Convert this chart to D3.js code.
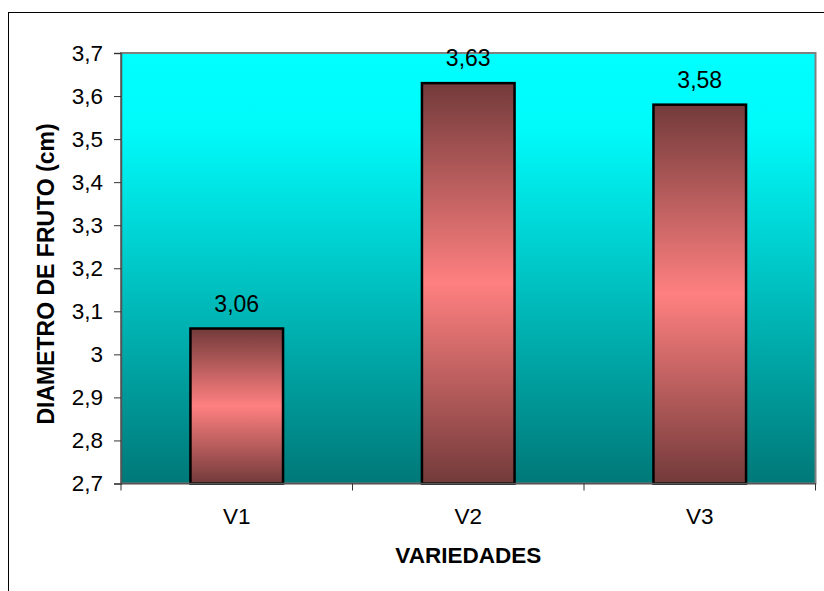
<!DOCTYPE html>
<html>
<head>
<meta charset="utf-8">
<script src="https://cdn.jsdelivr.net/npm/d3@7"></script>
<style>
  html, body { margin: 0; padding: 0; background: #fff; }
  svg { display: block; font-family: Arial, "Liberation Sans", sans-serif; }
</style>
</head>
<body>
<svg id="chart" width="824" height="591"></svg>
<script>
// Fruit diameter by variety
const categories = ["V1", "V2", "V3"];
const diameters = [3.06, 3.63, 3.58];
const yTicks = [2.7, 2.8, 2.9, 3.0, 3.1, 3.2, 3.3, 3.4, 3.5, 3.6, 3.7];
const yTitle = "DIAMETRO DE FRUTO (cm)";
const xTitle = "VARIEDADES";

const fmt = v => d3.format(".2~f")(v).replace(".", ",");

const svg = d3.select("#chart");
const plot = { left: 121, top: 53, right: 815.5, bottom: 483.5 };

const x = d3.scaleBand().domain(categories)
  .range([plot.left, plot.right]).paddingInner(0.6).paddingOuter(0.3);
const y = d3.scaleLinear().domain([2.7, 3.7]).range([plot.bottom, plot.top]);

// gradients
const defs = svg.append("defs");
const bg = defs.append("linearGradient").attr("id", "bgGrad")
  .attr("x1", 0).attr("y1", 0).attr("x2", 0).attr("y2", 1);
bg.append("stop").attr("offset", "0%").attr("stop-color", "#00ffff");
bg.append("stop").attr("offset", "18%").attr("stop-color", "#00fafa");
bg.append("stop").attr("offset", "100%").attr("stop-color", "#007878");

const barG = defs.append("linearGradient").attr("id", "barGrad")
  .attr("x1", 0).attr("y1", 0).attr("x2", 0).attr("y2", 1);
barG.append("stop").attr("offset", "0%").attr("stop-color", "#733a3a");
barG.append("stop").attr("offset", "50%").attr("stop-color", "#ff8080");
barG.append("stop").attr("offset", "100%").attr("stop-color", "#733a3a");

// outer chart frame
svg.append("rect")
  .attr("x", 8.5).attr("y", 12.5).attr("width", 840).attr("height", 620)
  .attr("fill", "#fff").attr("stroke", "#000").attr("stroke-width", 1);

// plot area
svg.append("rect")
  .attr("x", plot.left).attr("y", plot.top)
  .attr("width", plot.right - plot.left).attr("height", plot.bottom - plot.top)
  .attr("fill", "url(#bgGrad)").attr("stroke", "#808080").attr("stroke-width", 2);

// bars
svg.append("g").selectAll("rect").data(categories).join("rect")
  .attr("x", d => x(d))
  .attr("y", (d, i) => y(diameters[i]))
  .attr("width", x.bandwidth())
  .attr("height", (d, i) => y(2.7) - y(diameters[i]))
  .attr("fill", "url(#barGrad)")
  .attr("stroke", "#000").attr("stroke-width", 2.5);

// value labels
svg.append("g").selectAll("text").data(categories).join("text")
  .attr("x", d => x(d) + x.bandwidth() / 2)
  .attr("y", (d, i) => y(diameters[i]) - 17)
  .attr("text-anchor", "middle")
  .attr("font-size", 23)
  .attr("fill", "#000")
  .text((d, i) => fmt(diameters[i]));

// y axis
const yAxis = svg.append("g")
  .attr("transform", `translate(${plot.left},0)`)
  .call(d3.axisLeft(y).tickValues(yTicks).tickSize(7).tickPadding(11)
    .tickFormat(v => fmt(v)));
yAxis.select(".domain").attr("stroke", "#555").attr("stroke-width", 1.5);
yAxis.selectAll(".tick line").attr("stroke", "#333");
yAxis.selectAll("text").attr("font-size", 22.5).attr("fill", "#000")
  .attr("font-family", "Arial, 'Liberation Sans', sans-serif");

// x axis: ticks at category boundaries
const bounds = d3.range(categories.length + 1)
  .map(i => plot.left + i * (plot.right - plot.left) / categories.length);
const xAxis = svg.append("g");
xAxis.append("line")
  .attr("x1", plot.left).attr("x2", plot.right)
  .attr("y1", plot.bottom).attr("y2", plot.bottom)
  .attr("stroke", "#555").attr("stroke-width", 1.5);
xAxis.selectAll("line.tk").data(bounds).join("line").attr("class", "tk")
  .attr("x1", d => d).attr("x2", d => d)
  .attr("y1", plot.bottom).attr("y2", plot.bottom + 7)
  .attr("stroke", "#333");
xAxis.selectAll("text").data(categories).join("text")
  .attr("x", d => x(d) + x.bandwidth() / 2)
  .attr("y", 524)
  .attr("text-anchor", "middle")
  .attr("font-size", 22.5)
  .text(d => d);

// axis titles
svg.append("text")
  .attr("x", (plot.left + plot.right) / 2).attr("y", 563)
  .attr("text-anchor", "middle")
  .attr("font-size", 22.5).attr("font-weight", "bold")
  .text(xTitle);

svg.append("text")
  .attr("transform", `translate(54,274) rotate(-90)`)
  .attr("text-anchor", "middle")
  .attr("font-size", 23).attr("font-weight", "bold")
  .text(yTitle);
</script>
</body>
</html>
